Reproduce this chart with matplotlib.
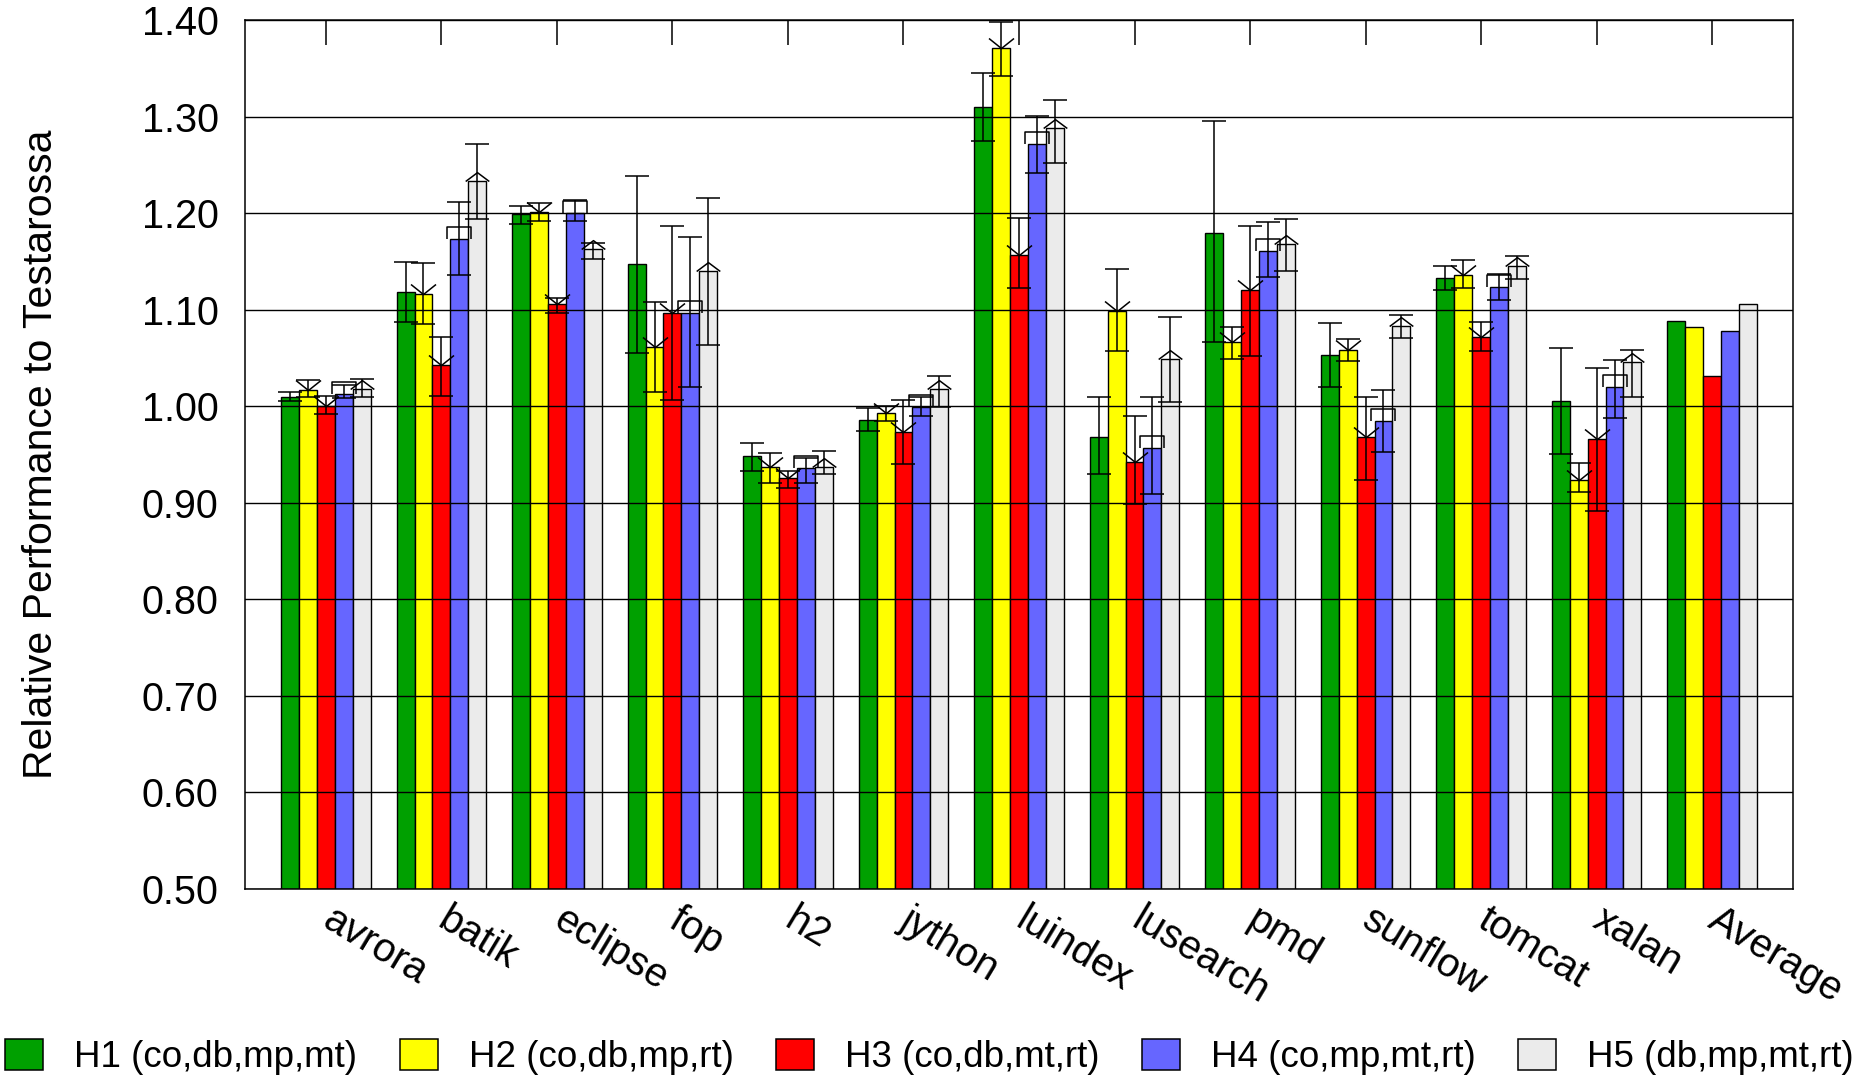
import numpy as np
import matplotlib
matplotlib.use("Agg")
import matplotlib.pyplot as plt
from matplotlib.path import Path
from matplotlib.patches import Patch

plt.rcParams['font.family'] = ['Liberation Sans', 'DejaVu Sans']

benchmarks = ["avrora", "batik", "eclipse", "fop", "h2", "jython", "luindex",
              "lusearch", "pmd", "sunflow", "tomcat", "xalan", "Average"]
labels = ["H1 (co,db,mp,mt)", "H2 (co,db,mp,rt)", "H3 (co,db,mt,rt)",
          "H4 (co,mp,mt,rt)", "H5 (db,mp,mt,rt)"]
colors = ["#00A000", "#FFFF00", "#FF0000", "#6666FF", "#EBEBEB"]

# bar heights (last entry = Average, no error bar)
h1 = [1.010, 1.118, 1.199, 1.147, 0.948, 0.986, 1.310, 0.968, 1.179, 1.053, 1.133, 1.005, 1.088]
h2 = [1.017, 1.116, 1.201, 1.061, 0.937, 0.993, 1.371, 1.099, 1.066, 1.058, 1.136, 0.924, 1.082]
h3 = [1.000, 1.043, 1.106, 1.097, 0.926, 0.973, 1.157, 0.942, 1.120, 0.968, 1.072, 0.966, 1.031]
h4 = [1.013, 1.173, 1.200, 1.097, 0.936, 0.999, 1.272, 0.957, 1.161, 0.985, 1.123, 1.020, 1.078]
h5 = [1.018, 1.233, 1.163, 1.140, 0.937, 1.018, 1.288, 1.049, 1.168, 1.083, 1.145, 1.046, 1.106]

# error bar ranges (per benchmark, no Average)
h1_lo = [1.005, 1.087, 1.189, 1.055, 0.933, 0.974, 1.275, 0.930, 1.067, 1.020, 1.120, 0.951]
h1_hi = [1.015, 1.149, 1.207, 1.238, 0.962, 0.998, 1.345, 1.010, 1.295, 1.086, 1.145, 1.060]
h2_lo = [1.010, 1.085, 1.192, 1.015, 0.921, 0.985, 1.342, 1.057, 1.049, 1.047, 1.122, 0.911]
h2_hi = [1.027, 1.148, 1.210, 1.108, 0.952, 1.000, 1.398, 1.142, 1.082, 1.070, 1.151, 0.941]
h3_lo = [0.992, 1.011, 1.097, 1.006, 0.915, 0.940, 1.122, 0.899, 1.052, 0.924, 1.057, 0.891]
h3_hi = [1.011, 1.072, 1.112, 1.187, 0.933, 1.006, 1.195, 0.990, 1.187, 1.010, 1.087, 1.040]
h4_lo = [1.008, 1.136, 1.192, 1.020, 0.921, 0.990, 1.242, 0.909, 1.134, 0.953, 1.110, 0.988]
h4_hi = [1.022, 1.211, 1.214, 1.175, 0.946, 1.010, 1.301, 1.010, 1.191, 1.017, 1.137, 1.048]
h5_lo = [1.010, 1.194, 1.152, 1.063, 0.930, 0.999, 1.252, 1.004, 1.140, 1.071, 1.132, 1.010]
h5_hi = [1.028, 1.272, 1.169, 1.216, 0.954, 1.031, 1.317, 1.092, 1.194, 1.094, 1.156, 1.058]

series = [h1, h2, h3, h4, h5]
lows = [h1_lo, h2_lo, h3_lo, h4_lo, h5_lo]
highs = [h1_hi, h2_hi, h3_hi, h4_hi, h5_hi]

# open marker shapes sitting on top of the bar
vee = Path([(-1, 0.8), (0, 0), (1, 0.8)], [Path.MOVETO, Path.LINETO, Path.LINETO])
box = Path([(-1, 0), (-1, 1), (1, 1), (1, 0)], [Path.MOVETO, Path.LINETO, Path.LINETO, Path.LINETO])
roof = Path([(-1, 0), (0, 0.75), (1, 0)], [Path.MOVETO, Path.LINETO, Path.LINETO])
markers = [None, (vee, 18), (vee, 18), (box, 17), (roof, 17)]

fig = plt.figure(figsize=(18.73, 10.91), dpi=100)
ax = fig.add_axes([245 / 1873, 1 - 889 / 1091, 1548 / 1873, 869 / 1091])

x = np.arange(len(benchmarks))
w = 0.155
n_err = len(h1_lo)

for j, vals in enumerate(series):
    pos = x + (j - 2) * w
    ax.bar(pos, vals, w, color=colors[j], edgecolor="black", linewidth=1.0, zorder=2)
    v = np.array(vals[:n_err])
    yerr = [v - np.array(lows[j]), np.array(highs[j]) - v]
    ax.errorbar(pos[:n_err], v, yerr=yerr, fmt="none", ecolor="black",
                elinewidth=1.1, capsize=8.5, capthick=1.1, zorder=3)
    if markers[j] is not None:
        m, ms = markers[j]
        ax.plot(pos[:n_err], v, linestyle="none", marker=m, markersize=ms,
                markerfacecolor="none", markeredgecolor="black",
                markeredgewidth=1.1, zorder=3)

ax.set_xlim(-0.7, len(benchmarks) - 0.3)
ax.set_ylim(0.5, 1.4)
ax.set_yticks(np.arange(0.5, 1.41, 0.1))
ax.set_yticklabels([f"{t:.2f}" for t in np.arange(0.5, 1.41, 0.1)], fontsize=28.5)
ax.tick_params(axis="y", length=0, pad=19)

ax.set_xticks(x)
ax.set_xticklabels(benchmarks, fontsize=29, rotation=-31, ha="left", va="center",
                   rotation_mode="anchor")
ax.tick_params(axis="x", bottom=False, top=True, direction="in", length=18,
               width=1.1, pad=20)

ax.set_axisbelow(False)
ax.yaxis.grid(True, color="black", linewidth=1.0)
for s in ax.spines.values():
    s.set_linewidth(1.1)

ax.set_ylabel("Relative Performance to Testarossa", fontsize=29.5)
ax.yaxis.set_label_coords((60 - 245) / 1548, 0.5)

handles = [Patch(facecolor=c, edgecolor="black", linewidth=1.1) for c in colors]
fig.legend(handles, labels, loc="center left", bbox_to_anchor=(5 / 1873, 1 - 1057 / 1091),
           ncol=5, frameon=False, fontsize=26.5, handlelength=1.04, handleheight=0.95,
           handletextpad=0.84, columnspacing=1.15, borderpad=0, borderaxespad=0)

fig.savefig("out.png", dpi=100)
